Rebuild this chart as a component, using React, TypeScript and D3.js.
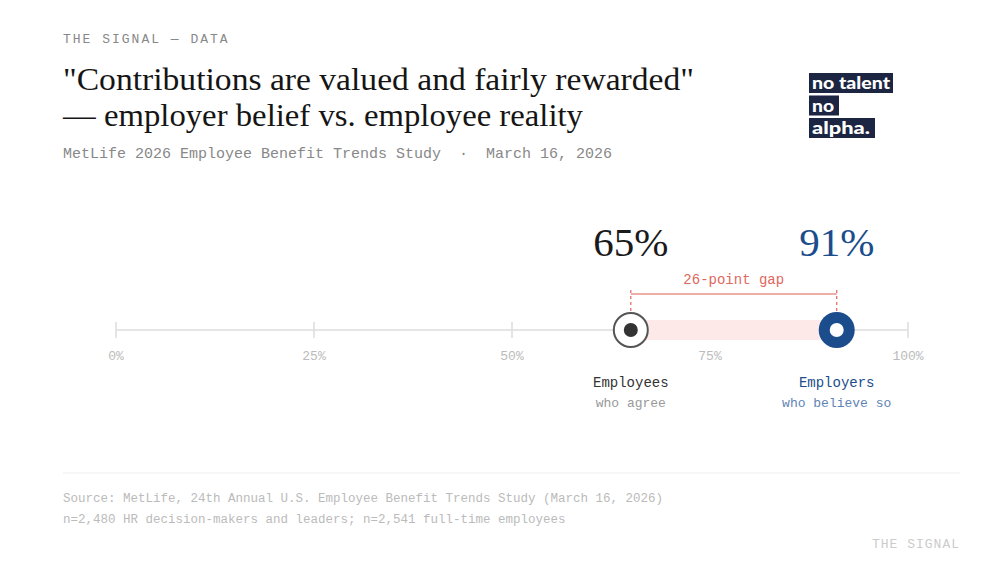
import React from "react";
import * as d3 from "d3";

const axisTicks = [0, 25, 50, 75, 100];
const tickLabels = ["0%", "25%", "50%", "75%", "100%"];
const groups = ["Employees", "Employers"];
const groupSubs = ["who agree", "who believe so"];
const values = [65, 91];
const gapLabel = "26-point gap";
const titleLines = ['"Contributions are valued and fairly rewarded"', "— employer belief vs. employee reality"];
const titleWidths = [631, 520];
const sourceLines = [
  "Source: MetLife, 24th Annual U.S. Employee Benefit Trends Study (March 16, 2026)",
  "n=2,480 HR decision-makers and leaders; n=2,541 full-time employees",
];
const logoLines = ["no talent", "no", "alpha."];

const MONO = "'Liberation Mono', 'DejaVu Sans Mono', monospace";
const SERIF = "'Liberation Serif', 'DejaVu Serif', serif";
const BLUE = "#1b4d8c";
const RED = "#e0675d";

export default function App() {
  const W = 1000, H = 563;
  const x = d3.scaleLinear().domain([0, 100]).range([116, 908]);
  const axisY = 330;
  const [emp, empl] = values;
  const xe = x(emp), xr = x(empl);
  const logoW = [84, 30, 66];
  const logoTW = [78, 22, 58];
  return (
    <svg width={W} height={H} style={{ position: "absolute", left: 0, top: 0, background: "#fff" }}>
      <text x={63} y={43} fontFamily={MONO} fontSize={13} fill="#888" letterSpacing={2}>THE SIGNAL — DATA</text>
      {titleLines.map((t, i) => (
        <text key={i} x={63} y={90 + i * 36} fontFamily={SERIF} fontSize={31} fill="#151515" textLength={titleWidths[i]} lengthAdjust="spacingAndGlyphs">{t}</text>
      ))}
      <text x={63} y={158} fontFamily={MONO} fontSize={15} fill="#888" xmlSpace="preserve">MetLife 2026 Employee Benefit Trends Study  ·  March 16, 2026</text>

      {logoLines.map((t, i) => (
        <g key={i}>
          <rect x={809} y={73 + i * 22.5} width={logoW[i]} height={20} fill="#1c2541" />
          <text x={812} y={89 + i * 22.5} fontFamily="Lato, 'DejaVu Sans', sans-serif" fontWeight={900} fontSize={16} fill="#fff" textLength={logoTW[i]} lengthAdjust="spacingAndGlyphs">{t}</text>
        </g>
      ))}

      {/* axis */}
      <line x1={x(0)} x2={x(100)} y1={axisY} y2={axisY} stroke="#ddd" strokeWidth={1.5} />
      {axisTicks.map((t, i) => (
        <g key={t}>
          <line x1={x(t)} x2={x(t)} y1={axisY - 8} y2={axisY + 8} stroke="#ddd" strokeWidth={1.5} />
          <text x={x(t)} y={360} textAnchor="middle" fontFamily={MONO} fontSize={13} fill="#bbb">{tickLabels[i]}</text>
        </g>
      ))}

      {/* gap band */}
      <rect x={xe} y={axisY - 10} width={xr - xe} height={20} fill="#fde9e8" />
      <line x1={xe} x2={xr} y1={294} y2={294} stroke={RED} strokeOpacity={0.7} strokeWidth={1.5} />
      <line x1={xe} x2={xe} y1={290} y2={314} stroke={RED} strokeWidth={1.2} strokeDasharray="3,3" />
      <line x1={xr} x2={xr} y1={290} y2={314} stroke={RED} strokeWidth={1.2} strokeDasharray="3,3" />
      <text x={(xe + xr) / 2} y={284} textAnchor="middle" fontFamily={MONO} fontSize={14} fill={RED}>{gapLabel}</text>

      {/* markers */}
      <circle cx={xe} cy={axisY} r={17} fill="#fff" stroke="#555" strokeWidth={2} />
      <circle cx={xe} cy={axisY} r={7} fill="#333" />
      <circle cx={xr} cy={axisY} r={18} fill={BLUE} />
      <circle cx={xr} cy={axisY} r={7} fill="#fff" />

      {/* big numbers */}
      <text x={xe} y={256} textAnchor="middle" fontFamily={SERIF} fontSize={41} fill="#1a1a1a">{emp}%</text>
      <text x={xr} y={256} textAnchor="middle" fontFamily={SERIF} fontSize={41} fill={BLUE}>{empl}%</text>

      {/* labels */}
      <text x={xe} y={387} textAnchor="middle" fontFamily={MONO} fontSize={14} fill="#333">{groups[0]}</text>
      <text x={xe} y={407} textAnchor="middle" fontFamily={MONO} fontSize={13} fill="#999">{groupSubs[0]}</text>
      <text x={xr} y={387} textAnchor="middle" fontFamily={MONO} fontSize={14} fill={BLUE}>{groups[1]}</text>
      <text x={xr} y={407} textAnchor="middle" fontFamily={MONO} fontSize={13} fill="#5f84b5">{groupSubs[1]}</text>

      {/* footer */}
      <line x1={63} x2={960} y1={473} y2={473} stroke="#eee" strokeWidth={1} />
      {sourceLines.map((t, i) => (
        <text key={i} x={63} y={502 + i * 21} fontFamily={MONO} fontSize={12.5} fill="#bbb">{t}</text>
      ))}
      <text x={960} y={548} textAnchor="end" fontFamily={MONO} fontSize={13} fill="#ccc" letterSpacing={1}>THE SIGNAL</text>
    </svg>
  );
}
